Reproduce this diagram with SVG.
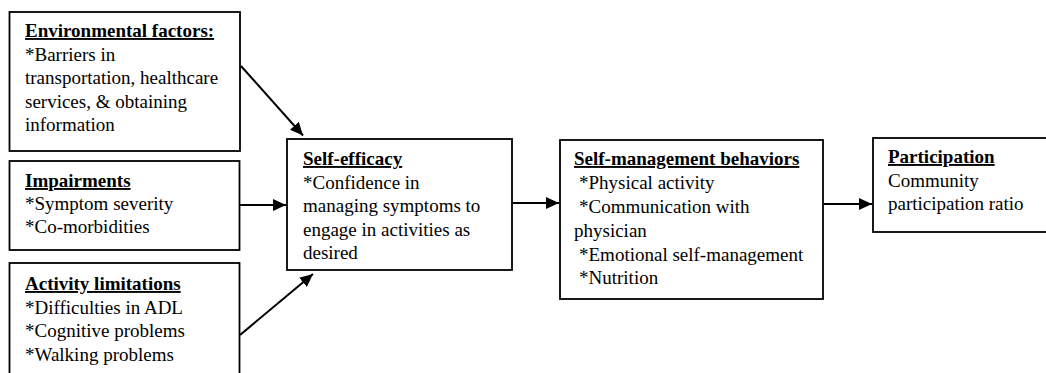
<svg xmlns="http://www.w3.org/2000/svg" width="1046" height="373" viewBox="0 0 1046 373">
<defs>
<marker id="ah" markerUnits="userSpaceOnUse" markerWidth="14" markerHeight="12" refX="13" refY="6" orient="auto">
<path d="M0,0 L13,6 L0,12 Z" fill="#000"/>
</marker>
<style>
rect{fill:#fff;stroke:#000;stroke-width:1.8}
text{font-family:"Liberation Serif","Times New Roman",serif;font-size:19px;fill:#000}
.h{font-weight:bold;text-decoration:underline}
.c line{stroke:#000;stroke-width:2;marker-end:url(#ah)}
</style>
</defs>
<rect x="0" y="0" width="1046" height="373" style="stroke:none"/>
<g id="environmental">
<rect x="9.5" y="12" width="230.5" height="139"/>
<text x="25" y="37" class="h">Environmental factors:</text>
<text x="25" y="60.5">*Barriers in</text>
<text x="25" y="84">transportation, healthcare</text>
<text x="25" y="107.5">services, &amp; obtaining</text>
<text x="25" y="131">information</text>
</g>
<g id="impairments">
<rect x="9.5" y="161" width="230" height="89"/>
<text x="25" y="187" class="h">Impairments</text>
<text x="25" y="210">*Symptom severity</text>
<text x="25" y="233">*Co-morbidities</text>
</g>
<g id="activity">
<rect x="9.5" y="263" width="230" height="120"/>
<text x="25" y="290" class="h">Activity limitations</text>
<text x="25" y="314">*Difficulties in ADL</text>
<text x="25" y="337">*Cognitive problems</text>
<text x="25" y="361">*Walking problems</text>
</g>
<g id="selfefficacy">
<rect x="287" y="139" width="225" height="131"/>
<text x="303" y="165" class="h">Self-efficacy</text>
<text x="303" y="188.5">*Confidence in</text>
<text x="303" y="212">managing symptoms to</text>
<text x="303" y="235.5">engage in activities as</text>
<text x="303" y="259">desired</text>
</g>
<g id="selfmanagement">
<rect x="560" y="140" width="263" height="159"/>
<text x="574" y="165" class="h">Self-management behaviors</text>
<text x="579" y="189">*Physical activity</text>
<text x="579" y="213">*Communication with</text>
<text x="574" y="237">physician</text>
<text x="579" y="261">*Emotional self-management</text>
<text x="579" y="284">*Nutrition</text>
</g>
<g id="participation">
<rect x="873" y="138" width="180" height="94"/>
<text x="888" y="163" class="h">Participation</text>
<text x="888" y="187">Community</text>
<text x="888" y="210">participation ratio</text>
</g>
<g class="c" id="connectors">
<line x1="241" y1="66" x2="303" y2="135.5"/>
<line x1="240" y1="205" x2="286" y2="205"/>
<line x1="240" y1="335" x2="313" y2="274"/>
<line x1="513" y1="203" x2="559" y2="203"/>
<line x1="824" y1="204" x2="872" y2="204"/>
</g>
</svg>
